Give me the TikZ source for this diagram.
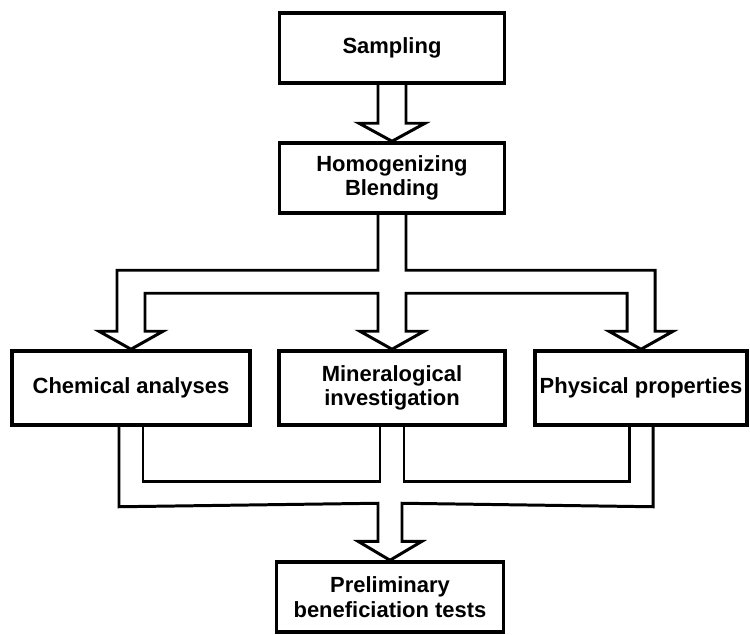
\documentclass[tikz,border=0pt]{standalone}
\usepackage{fontspec}
\setmainfont{Liberation Sans}
\usetikzlibrary{calc}

\tikzset{
  stagebox/.style={draw, line width=2pt, inner sep=0pt, align=center,
    font=\fontsize{12.5}{14}\selectfont\bfseries},
  pipe/.style={line width=1.7pt, line join=miter}
}

\begin{document}
\begin{tikzpicture}[x=0.02cm, y=-0.02cm]

                \useasboundingbox (0,0) rectangle (750,635);

                % stages
                \node[stagebox, minimum width=4.5cm, minimum height=1.4cm] (samp) at (392,48) {Sampling};
                \node[stagebox, minimum width=4.5cm, minimum height=1.4cm] (homog) at (392,178) {Homogenizing\\Blending};
                \node[stagebox, minimum width=4.76cm, minimum height=1.48cm] (chem) at (131,388) {Chemical analyses};
                \node[stagebox, minimum width=4.52cm, minimum height=1.48cm] (miner) at (392,388) {Mineralogical\\investigation};
                \node[stagebox, minimum width=4.24cm, minimum height=1.48cm] (phys) at (641,388) {Physical properties};
                \node[stagebox, minimum width=4.54cm, minimum height=1.4cm] (prelim) at (390,597) {Preliminary\\beneficiation tests};

                % sampling -> homogenizing
                \draw[pipe] ($(samp.south)+(-14,0)$) -- ($(homog.north)+(-14,-18)$) -- ++(-19,0) -- (homog.north)
                    -- ($(homog.north)+(33,-18)$) -- ++(-19,0) -- ($(samp.south)+(14,0)$);

                % splitting into the three investigations
                \draw[pipe] ($(homog.south)+(-14,0)$) -- ($(miner.north)+(-14,-79)$) -- ($(chem.north)+(-14,-79)$)
                    -- ($(chem.north)+(-14,-18)$) -- ++(-18,0) -- (chem.north) -- ($(chem.north)+(32,-18)$) -- ++(-18,0)
                    -- ($(chem.north)+(14,-56)$) -- ($(miner.north)+(-14,-56)$)
                    -- ($(miner.north)+(-14,-18)$) -- ++(-18,0) -- (miner.north) -- ($(miner.north)+(32,-18)$) -- ++(-18,0)
                    -- ($(miner.north)+(14,-56)$) -- ($(phys.north)+(-14,-56)$)
                    -- ($(phys.north)+(-14,-18)$) -- ++(-18,0) -- (phys.north) -- ($(phys.north)+(32,-18)$) -- ++(-18,0)
                    -- ($(phys.north)+(14,-79)$) -- ($(miner.north)+(14,-79)$) -- ($(homog.south)+(14,0)$);

                % joining into the tests
                \draw[pipe] ($(chem.south)+(-12,0)$) -- ++(0,80) -- ($(prelim.north)+(-12,-57)$)
                    -- ($(prelim.north)+(-12,-19)$) -- ++(-20,0) -- (prelim.north) -- ($(prelim.north)+(32,-19)$) -- ++(-20,0)
                    -- ($(prelim.north)+(12,-57)$) -- ($(phys.south)+(12,80)$) -- ($(phys.south)+(12,0)$);
                \draw[pipe] ($(chem.south)+(12,0)$) -- ++(0,55) -- ($(miner.south)+(-12,55)$) -- ($(miner.south)+(-12,0)$);
                \draw[pipe] ($(miner.south)+(12,0)$) -- ++(0,55) -- ($(phys.south)+(-12,55)$) -- ($(phys.south)+(-12,0)$);

\end{tikzpicture}
\end{document}
